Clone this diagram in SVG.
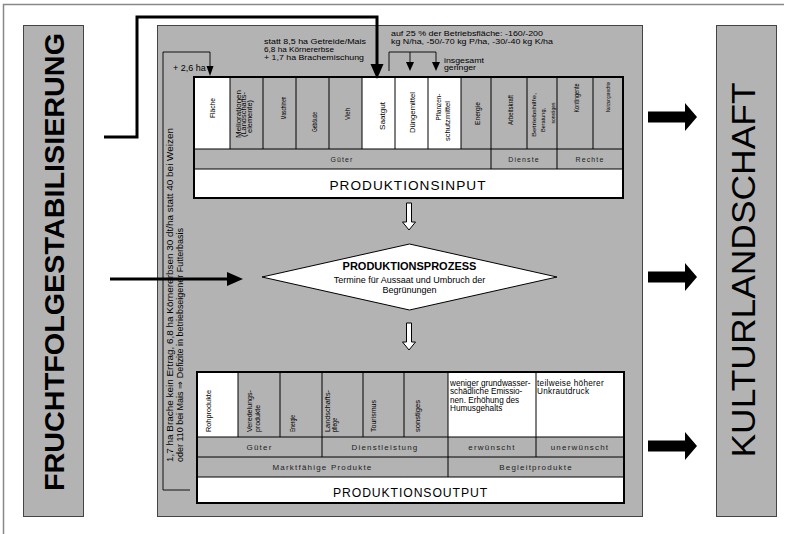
<svg xmlns="http://www.w3.org/2000/svg" width="788" height="534" viewBox="0 0 788 534">
<defs>
<style>
text{font-family:"Liberation Sans",Arial,sans-serif;fill:#000}
.gray{fill:#b3b3b3;stroke:#444;stroke-width:1}
.wf{fill:#fff;stroke:none}
.tb{fill:none;stroke:#000;stroke-width:2}
.ln{fill:none;stroke:#000;stroke-width:1}
.thin{fill:none;stroke:#000;stroke-width:0.9}
.thick{fill:none;stroke:#000;stroke-width:3}
.cl{font-size:6.5px;fill:#222}
.row7{font-size:7px;letter-spacing:1.1px;fill:#222}
.row8{font-size:8px;letter-spacing:1.2px;fill:#222}
.big{font-size:13.5px;letter-spacing:1px}
.ann{font-size:7px}
.blk{fill:#000;stroke:none}
.hollow{fill:#fff;stroke:#000;stroke-width:1}
</style>
</defs>
<rect width="788" height="534" fill="#fff"/>
<path d="M3.5 534 V4.5 H784" fill="none" stroke="#888" stroke-width="1.5"/>

<g id="fruchtfolge">
<rect class="gray" x="23.5" y="25.5" width="60" height="491"/>
<text transform="translate(54,262) rotate(-90)" text-anchor="middle" dominant-baseline="central" font-size="28.5" font-weight="bold" textLength="458" lengthAdjust="spacingAndGlyphs">FRUCHTFOLGESTABILISIERUNG</text>
</g>

<g id="kulturlandschaft">
<rect class="gray" x="716.5" y="25.5" width="60" height="491"/>
<text transform="translate(743,270) rotate(-90)" text-anchor="middle" dominant-baseline="central" font-size="34" textLength="375" lengthAdjust="spacingAndGlyphs">KULTURLANDSCHAFT</text>
</g>

<g id="main">
<rect class="gray" x="157.5" y="25.5" width="485" height="491"/>
</g>

<g id="annotations">
<text class="ann" x="264" y="44" textLength="102" lengthAdjust="spacingAndGlyphs">statt 8,5 ha Getreide/Mais</text>
<text class="ann" x="264" y="52" textLength="70" lengthAdjust="spacingAndGlyphs">6,8 ha Körnererbse</text>
<text class="ann" x="264" y="60" textLength="100" lengthAdjust="spacingAndGlyphs">+ 1,7 ha Brachemischung</text>
<text class="ann" x="391" y="36" textLength="152" lengthAdjust="spacingAndGlyphs">auf 25 % der Betriebsfläche: -160/-200</text>
<text class="ann" x="391" y="44" textLength="162" lengthAdjust="spacingAndGlyphs">kg N/ha, -50/-70 kg P/ha, -30/-40 kg K/ha</text>
<text class="ann" x="444" y="63" textLength="40" lengthAdjust="spacingAndGlyphs">insgesamt</text>
<text class="ann" x="444" y="70" textLength="32" lengthAdjust="spacingAndGlyphs">geringer</text>
<text x="173" y="71" font-family="Liberation Serif,serif" font-size="9">+ 2,6 ha</text>
<text transform="translate(170,462) rotate(-90)" dominant-baseline="central" font-size="8.7" textLength="334" lengthAdjust="spacingAndGlyphs">1,7 ha Brache kein Ertrag, 6,8 ha Körnererbsen 30 dt/ha statt 40 bei Weizen</text>
<text transform="translate(179.5,462) rotate(-90)" dominant-baseline="central" font-size="8.7" textLength="234" lengthAdjust="spacingAndGlyphs">oder 110 bei Mais ⇒ Defizite in betriebseigener Futterbasis</text>
</g>

<g id="input">
<rect class="wf" x="194" y="77" width="36" height="72"/>
<rect class="wf" x="362" y="77" width="99" height="72"/>
<rect class="wf" x="194" y="169" width="429" height="29"/>
<path class="ln" d="M230 77V149M263 77V149M296 77V149M329 77V149M362 77V149M395 77V149M428 77V149M461 77V149M491 77V169M527 77V149M557 77V169M593 77V149M194 149H623M194 169H623"/>
<rect class="tb" x="194" y="77" width="429" height="121"/>
<g class="cl" text-anchor="middle" dominant-baseline="central">
<text transform="translate(212,108) rotate(-90)" textLength="20" lengthAdjust="spacingAndGlyphs">Fläche</text>
<text transform="translate(238,114) rotate(-90)" textLength="48" lengthAdjust="spacingAndGlyphs">Meliorationen</text>
<text transform="translate(243.5,114.5) rotate(-90)" textLength="45" lengthAdjust="spacingAndGlyphs">(Landschafts-</text>
<text transform="translate(249,116.5) rotate(-90)" textLength="33" lengthAdjust="spacingAndGlyphs">elemente)</text>
<text transform="translate(283,108) rotate(-90)" textLength="23" lengthAdjust="spacingAndGlyphs">Maschinen</text>
<text transform="translate(314,122) rotate(-90)" textLength="20" lengthAdjust="spacingAndGlyphs">Gebäude</text>
<text transform="translate(347,114) rotate(-90)" textLength="12" lengthAdjust="spacingAndGlyphs">Vieh</text>
<text transform="translate(382,116) rotate(-90)" textLength="28" lengthAdjust="spacingAndGlyphs">Saatgut</text>
<text transform="translate(412,112.5) rotate(-90)" textLength="41" lengthAdjust="spacingAndGlyphs">Düngemittel</text>
<text transform="translate(438,107) rotate(-90)" textLength="27" lengthAdjust="spacingAndGlyphs">Pflanzen-</text>
<text transform="translate(447,121) rotate(-90)" textLength="40" lengthAdjust="spacingAndGlyphs">schutzmittel</text>
<text transform="translate(477,113.5) rotate(-90)" textLength="23" lengthAdjust="spacingAndGlyphs">Energie</text>
<text transform="translate(510,110) rotate(-90)" textLength="30" lengthAdjust="spacingAndGlyphs">Arbeitskraft</text>
<text transform="translate(534,115) rotate(-90)" textLength="44" lengthAdjust="spacingAndGlyphs" font-size="5.5">Betriebshilfe,</text>
<text transform="translate(543,120) rotate(-90)" textLength="24" lengthAdjust="spacingAndGlyphs" font-size="5.5">Beratung,</text>
<text transform="translate(552.5,113) rotate(-90)" textLength="21" lengthAdjust="spacingAndGlyphs" font-size="5.5">sonstiges</text>
<text transform="translate(576,98) rotate(-90)" textLength="29" lengthAdjust="spacingAndGlyphs">Kontingente</text>
<text transform="translate(608,97) rotate(-90)" textLength="30" lengthAdjust="spacingAndGlyphs" font-size="5.5">Nutzungsrechte</text>
</g>
<text class="row7" x="342" y="162" text-anchor="middle">Güter</text>
<text class="row7" x="524" y="162" text-anchor="middle">Dienste</text>
<text class="row7" x="590" y="162" text-anchor="middle">Rechte</text>
<text class="big" x="408" y="190" text-anchor="middle" textLength="157" lengthAdjust="spacingAndGlyphs">PRODUKTIONSINPUT</text>
</g>

<g id="process">
<polygon points="262,277 409.5,244 557,277 409.5,310" fill="#fff" stroke="#000" stroke-width="1"/>
<text x="409.5" y="270" text-anchor="middle" font-size="11" font-weight="bold">PRODUKTIONSPROZESS</text>
<text x="409.5" y="282.5" text-anchor="middle" font-size="9">Termine für Aussaat und Umbruch der</text>
<text x="409.5" y="293" text-anchor="middle" font-size="9">Begrünungen</text>
</g>

<g id="output">
<rect class="wf" x="197" y="372" width="41" height="65"/>
<rect class="wf" x="448" y="372" width="176" height="65"/>
<rect class="wf" x="197" y="477" width="427" height="26"/>
<path class="ln" d="M238 372V437M280 372V437M322 372V457M363 372V437M404 372V437M448 372V477M536 372V457M197 437H624M197 457H624M197 477H624"/>
<rect class="tb" x="197" y="372" width="427" height="131"/>
<g class="cl" dominant-baseline="central">
<text transform="translate(208,432) rotate(-90)" textLength="42" lengthAdjust="spacingAndGlyphs">Rohprodukte</text>
<text transform="translate(249,432) rotate(-90)" textLength="42" lengthAdjust="spacingAndGlyphs">Veredelungs-</text>
<text transform="translate(257.5,432) rotate(-90)" textLength="27" lengthAdjust="spacingAndGlyphs">produkte</text>
<text transform="translate(292,432) rotate(-90)" textLength="17" lengthAdjust="spacingAndGlyphs">Energie</text>
<text transform="translate(327,432) rotate(-90)" textLength="42" lengthAdjust="spacingAndGlyphs">Landschafts-</text>
<text transform="translate(334.5,432) rotate(-90)" textLength="14" lengthAdjust="spacingAndGlyphs">pflege</text>
<text transform="translate(373,432) rotate(-90)" textLength="32" lengthAdjust="spacingAndGlyphs">Tourismus</text>
<text transform="translate(417,432) rotate(-90)" textLength="32" lengthAdjust="spacingAndGlyphs">sonstiges</text>
</g>
<g font-size="8.2" fill="#222">
<text x="450" y="386">weniger grundwasser-</text>
<text x="450" y="394.3">schädliche Emissio-</text>
<text x="450" y="402.6">nen. Erhöhung des</text>
<text x="450" y="410.9">Humusgehalts</text>
<text x="537" y="386" letter-spacing="0.3">teilweise höherer</text>
<text x="537" y="394.3" letter-spacing="0.3">Unkrautdruck</text>
</g>
<text class="row8" x="259.5" y="450" text-anchor="middle">Güter</text>
<text class="row8" x="385" y="450" text-anchor="middle">Dienstleistung</text>
<text class="row8" x="492" y="450" text-anchor="middle">erwünscht</text>
<text class="row8" x="580" y="450" text-anchor="middle">unerwünscht</text>
<text class="row8" x="322.5" y="470" text-anchor="middle">Marktfähige Produkte</text>
<text class="row8" x="536" y="470" text-anchor="middle">Begleitprodukte</text>
<text class="big" x="410.5" y="497" text-anchor="middle" font-size="13" textLength="155" lengthAdjust="spacingAndGlyphs">PRODUKTIONSOUTPUT</text>
</g>

<g id="connectors">
<path class="thick" d="M104 137H137V17H377V66"/>
<polygon class="blk" points="370.5,64 383.5,64 377,79"/>
<path class="thick" d="M110 279H229"/>
<polygon class="blk" points="227,272 243,279 227,286"/>
<path class="thin" d="M190 490H163V52H210V67"/>
<polygon class="blk" points="206.5,66 213.5,66 210,76"/>
<path class="thin" d="M389 71V52H436V63M410 52V63"/>
<polygon class="blk" points="406,62 414,62 410,71"/>
<polygon class="blk" points="432,62 440,62 436,71"/>
<polygon class="hollow" points="406.5,203 411.5,203 411.5,222 415.5,222 409,230 402.5,222 406.5,222"/>
<polygon class="hollow" points="406.5,323 411.5,323 411.5,342 415.5,342 409,350 402.5,342 406.5,342"/>
<polygon class="blk" points="648,111.5 685,111.5 685,103 697,117 685,131 685,122.5 648,122.5"/>
<polygon class="blk" points="648,271.5 685,271.5 685,263 697,277 685,291 685,282.5 648,282.5"/>
<polygon class="blk" points="648,440.5 685,440.5 685,432 697,446 685,460 685,451.5 648,451.5"/>
</g>
</svg>
